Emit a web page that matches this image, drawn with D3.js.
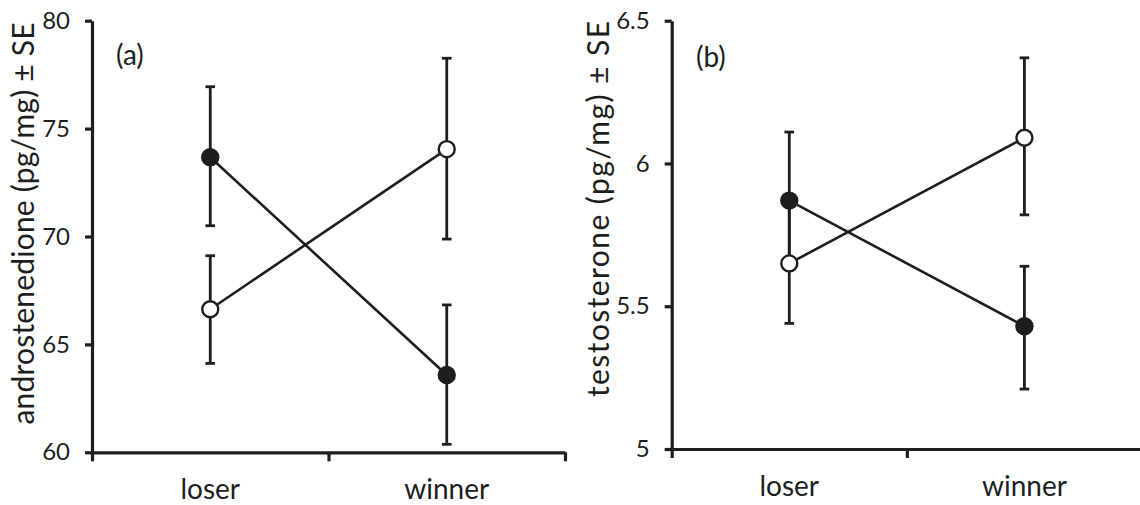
<!DOCTYPE html>
<html><head><meta charset="utf-8">
<script src="https://cdn.jsdelivr.net/npm/d3@7"></script>
<style>body{margin:0;background:#fff} svg{display:block} text{font-family:Lato,"Open Sans",sans-serif;fill:#1e1e1e}</style>
</head><body><svg id="c" width="1140" height="505"></svg>
<script>
// ---- data ----
const categories = ["loser", "winner"];

const aTicks = [60, 65, 70, 75, 80];
const aFilled   = [73.67, 63.58];
const aFilledLo = [70.50, 60.37];
const aFilledHi = [76.94, 66.83];
const aOpen     = [66.63, 74.05];
const aOpenLo   = [64.12, 69.88];
const aOpenHi   = [69.11, 78.26];

const bTicks = [5, 5.5, 6, 6.5];
const bFilled   = [5.87, 5.43];
const bFilledLo = [5.63, 5.21];
const bFilledHi = [6.11, 5.64];
const bOpen     = [5.65, 6.09];
const bOpenLo   = [5.44, 5.82];
const bOpenHi   = [5.86, 6.37];

const panelLabels = ["(a)", "(b)"];
const yTitles = ["androstenedione (pg/mg) ± SE", "testosterone (pg/mg) ± SE"];

// ---- layout ----
const INK = "#1e1e1e";
const svg = d3.select("#c");

const panels = [
  { ticks: aTicks, filled: aFilled, fLo: aFilledLo, fHi: aFilledHi, open: aOpen, oLo: aOpenLo, oHi: aOpenHi,
    label: panelLabels[0], title: yTitles[0],
    x0: 92, x1: 565, yb: 452.3, yt: 20.7, titleX: 34, titleY: 223.5, titleLen: 402, labX: 116, labY: 65 },
  { ticks: bTicks, filled: bFilled, fLo: bFilledLo, fHi: bFilledHi, open: bOpen, oLo: bOpenLo, oHi: bOpenHi,
    label: panelLabels[1], title: yTitles[1],
    x0: 671.7, x1: 1142, yb: 449, yt: 20.7, titleX: 609, titleY: 209, titleLen: 376, labX: 696, labY: 67 }
];

panels.forEach(p => {
  const g = svg.append("g");
  const y = d3.scaleLinear().domain([d3.min(p.ticks), d3.max(p.ticks)]).range([p.yb, p.yt]);
  const x = d3.scaleBand().domain(categories).range([p.x0, p.x1]).padding(0);
  const xb = d3.scaleLinear().domain([0, categories.length]).range([p.x0, p.x1]);
  const cx = c => x(c) + x.bandwidth() / 2;

  // y axis
  const ya = g.append("g").attr("transform", `translate(${p.x0},0)`)
    .call(d3.axisLeft(y).tickValues(p.ticks).tickFormat(d => String(d)).tickSize(7).tickPadding(15).tickSizeOuter(0));
  ya.selectAll("path,line").attr("stroke", INK).attr("stroke-width", 3.2);
  ya.selectAll("text").attr("font-size", 24).attr("fill", INK).style("font-family", "Lato");

  // x axis boundary ticks
  const xa = g.append("g").attr("transform", `translate(0,${p.yb})`)
    .call(d3.axisBottom(xb).tickValues(d3.range(categories.length + 1)).tickFormat("").tickSize(9).tickSizeOuter(0));
  xa.selectAll("path,line").attr("stroke", INK).attr("stroke-width", 3.2);

  // x category labels
  const xl = g.append("g").attr("transform", `translate(0,${p.yb})`)
    .call(d3.axisBottom(x).tickSize(0));
  xl.select(".domain").remove();
  xl.selectAll("text").attr("font-size", 28).attr("fill", INK).attr("dy", null).attr("y", 46.5).style("font-family", "Lato");

  // y title
  g.append("text").attr("transform", `translate(${p.titleX},${p.titleY}) rotate(-90)`)
    .attr("text-anchor", "middle").attr("font-size", 30)
    .attr("textLength", p.titleLen).attr("lengthAdjust", "spacing").text(p.title);

  // panel label
  g.append("text").attr("x", p.labX).attr("y", p.labY).attr("font-size", 28).text(p.label);

  const series = [
    { v: p.filled, lo: p.fLo, hi: p.fHi, fill: INK },
    { v: p.open, lo: p.oLo, hi: p.oHi, fill: "#fff" }
  ];

  const line = d3.line().x((d, i) => cx(categories[i])).y(d => y(d));
  series.forEach(s => {
    g.append("path").datum(s.v).attr("d", line).attr("fill", "none").attr("stroke", INK).attr("stroke-width", 2.6);
  });
  series.forEach(s => {
    categories.forEach((c, i) => {
      const X = cx(c);
      g.append("line").attr("x1", X).attr("x2", X).attr("y1", y(s.lo[i])).attr("y2", y(s.hi[i]))
        .attr("stroke", INK).attr("stroke-width", 2.8);
      [s.lo[i], s.hi[i]].forEach(e => {
        g.append("line").attr("x1", X - 4.8).attr("x2", X + 4.8).attr("y1", y(e)).attr("y2", y(e))
          .attr("stroke", INK).attr("stroke-width", 2.8);
      });
    });
  });
  series.forEach(s => {
    categories.forEach((c, i) => {
      g.append("circle").attr("cx", cx(c)).attr("cy", y(s.v[i]))
        .attr("r", s.fill === "#fff" ? 8 : 9.2)
        .attr("fill", s.fill).attr("stroke", INK).attr("stroke-width", s.fill === "#fff" ? 2.4 : 0);
    });
  });
});
</script>
</body></html>
